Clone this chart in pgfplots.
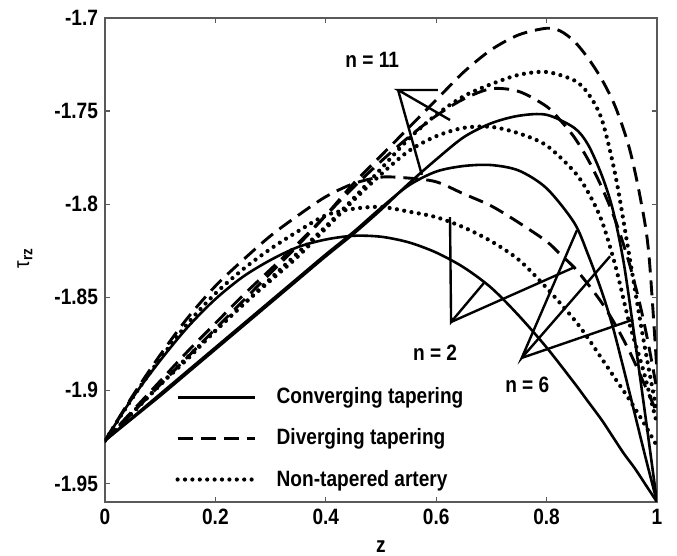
\documentclass[border=0pt]{standalone}
\usepackage{pgfplots}
\pgfplotsset{compat=1.18}
\usepackage{fontspec}
\setmainfont{Liberation Sans}[FakeStretch=0.86]
\newcommand\lf{\fontsize{11.1}{13.3}\selectfont\bfseries}

% tau_rz against z; c = converging, d = diverging, p = non-tapered; n = 2, 6, 11
\pgfplotstableread{
z c2 c6 c11
0 -1.927 -1.927 -1.927
0.05 -1.904 -1.9145 -1.915
0.1 -1.884 -1.902 -1.903
0.15 -1.866 -1.8895 -1.8905
0.2 -1.851 -1.877 -1.878
0.25 -1.839 -1.8645 -1.8655
0.3 -1.830 -1.852 -1.853
0.35 -1.823 -1.8395 -1.8405
0.4 -1.819 -1.827 -1.828
0.45 -1.817 -1.815 -1.816
0.5 -1.8175 -1.802 -1.803
0.55 -1.8205 -1.790 -1.789
0.6 -1.826 -1.7825 -1.776
0.65 -1.834 -1.7795 -1.764
0.7 -1.845 -1.779 -1.7565
0.75 -1.860 -1.782 -1.7525
0.8 -1.877 -1.7915 -1.752
0.85 -1.896 -1.810 -1.759
0.875 -1.906 -1.827 -1.768
0.9 -1.916 -1.847 -1.7845
0.92 -1.925 -1.866 -1.803
0.94 -1.934 -1.889 -1.832
0.96 -1.942 -1.913 -1.873
0.98 -1.951 -1.937 -1.916
1 -1.96 -1.96 -1.96
}\conv
\pgfplotstableread{
z d2 d6 d11
0 -1.927 -1.927 -1.927
0.05 -1.903 -1.911 -1.912
0.1 -1.881 -1.895 -1.897
0.15 -1.861 -1.879 -1.882
0.2 -1.844 -1.864 -1.867
0.25 -1.830 -1.849 -1.852
0.3 -1.817 -1.835 -1.837
0.35 -1.806 -1.821 -1.822
0.4 -1.796 -1.806 -1.806
0.45 -1.789 -1.791 -1.789
0.5 -1.7855 -1.777 -1.774
0.55 -1.786 -1.764 -1.759
0.6 -1.788 -1.7525 -1.744
0.65 -1.7945 -1.7435 -1.729
0.7 -1.801 -1.738 -1.717
0.75 -1.810 -1.7395 -1.709
0.8 -1.820 -1.7475 -1.7055
0.825 -1.827 -1.755 -1.707
0.85 -1.834 -1.764 -1.7125
0.875 -1.843 -1.776 -1.7215
0.9 -1.853 -1.791 -1.733
0.925 -1.865 -1.809 -1.748
0.95 -1.879 -1.832 -1.770
0.97 -1.892 -1.855 -1.797
0.985 -1.902 -1.876 -1.826
1 -1.912 -1.900 -1.890
}\dive
\pgfplotstableread{
z p2 p6 p11
0 -1.927 -1.927 -1.927
0.05 -1.904 -1.912 -1.912
0.1 -1.883 -1.897 -1.897
0.15 -1.864 -1.882 -1.883
0.2 -1.848 -1.868 -1.868
0.25 -1.835 -1.854 -1.854
0.3 -1.824 -1.841 -1.840
0.35 -1.8145 -1.828 -1.826
0.4 -1.806 -1.813 -1.812
0.45 -1.8025 -1.798 -1.797
0.5 -1.8015 -1.784 -1.781
0.55 -1.804 -1.7715 -1.765
0.6 -1.807 -1.7635 -1.752
0.65 -1.8125 -1.759 -1.742
0.7 -1.820 -1.7585 -1.7355
0.75 -1.830 -1.762 -1.7305
0.8 -1.845 -1.7685 -1.729
0.85 -1.862 -1.7825 -1.7335
0.875 -1.872 -1.7935 -1.7405
0.9 -1.883 -1.809 -1.7545
0.925 -1.894 -1.8335 -1.785
0.95 -1.905 -1.864 -1.828
0.975 -1.917 -1.889 -1.872
1 -1.93 -1.918 -1.912
}\nont

\begin{document}
\begin{tikzpicture}
\useasboundingbox (-52.5pt,-27pt) rectangle (286pt,251pt);
\begin{axis}[
width=276pt,height=242pt,scale only axis,
xmin=0,xmax=1,ymin=-1.96,ymax=-1.7,
xtick={0,0.2,0.4,0.6,0.8,1},
ytick={-1.95,-1.9,-1.85,-1.8,-1.75,-1.7},
tick align=inside,tick pos=both,major tick length=2.5pt,
axis line style={black!65,line width=0.6pt},
tick style={black!65,line width=0.6pt},
tick label style={font=\lf},
/pgf/number format/assume math mode=true,
xlabel={z},ylabel={τ\textsubscript{\bfseries rz}},
label style={font=\lf},
xlabel style={at={(axis description cs:0.5,-0.093)},anchor=center},
ylabel style={at={(axis description cs:-0.145,0.504)},anchor=center,font=\fontsize{11.1}{13.3}\selectfont},
legend style={at={(axis cs:0.127,-1.8963)},anchor=north west,draw=none,fill=none,font=\lf,
  row sep=7pt,column sep=8pt,inner sep=0pt},
legend cell align=left,
legend image code/.code={\draw[#1] (0pt,0pt) -- (38.5pt,0pt);},
solid line/.style={black,line width=1.3pt},
dash line/.style={black,line width=1.45pt,dash pattern=on 7.5pt off 4pt},
dot line/.style={black,line width=2.1pt,line cap=round,dash pattern=on 0pt off 3.7pt},
]
\addlegendimage{solid line}
\addlegendentry{Converging tapering}
\addlegendimage{dash line}
\addlegendentry{Diverging tapering}
\addlegendimage{dot line}
\addlegendentry{Non-tapered artery}

\addplot[solid line,smooth,forget plot] table[x=z,y=c2] {\conv};
\addplot[solid line,smooth,forget plot] table[x=z,y=c6] {\conv};
\addplot[solid line,smooth,forget plot] table[x=z,y=c11] {\conv};
\addplot[dash line,smooth,forget plot] table[x=z,y=d2] {\dive};
\addplot[dash line,smooth,forget plot] table[x=z,y=d6] {\dive};
\addplot[dash line,smooth,forget plot] table[x=z,y=d11] {\dive};
\addplot[dot line,smooth,forget plot] table[x=z,y=p2] {\nont};
\addplot[dot line,smooth,forget plot] table[x=z,y=p6] {\nont};
\addplot[dot line,smooth,forget plot] table[x=z,y=p11] {\nont};

% pointer lines
\draw[line width=1.2pt] (axis cs:0.603,-1.7387) -- (axis cs:0.531,-1.7387) -- (axis cs:0.625,-1.7548);
\draw[line width=1.2pt] (axis cs:0.531,-1.7387) -- (axis cs:0.574,-1.7843);
\draw[line width=1.2pt] (axis cs:0.625,-1.807) -- (axis cs:0.627,-1.8633) -- (axis cs:0.688,-1.8418);
\draw[line width=1.2pt] (axis cs:0.627,-1.8633) -- (axis cs:0.851,-1.8338);
\draw[line width=1.2pt] (axis cs:0.855,-1.814) -- (axis cs:0.755,-1.8826) -- (axis cs:0.915,-1.828);
\draw[line width=1.2pt] (axis cs:0.755,-1.8826) -- (axis cs:0.957,-1.862);
\node[font=\lf] at (axis cs:0.484,-1.7226) {n = 11};
\node[font=\lf] at (axis cs:0.598,-1.880) {n = 2};
\node[font=\lf] at (axis cs:0.765,-1.897) {n = 6};
\end{axis}
\end{tikzpicture}
\end{document}
